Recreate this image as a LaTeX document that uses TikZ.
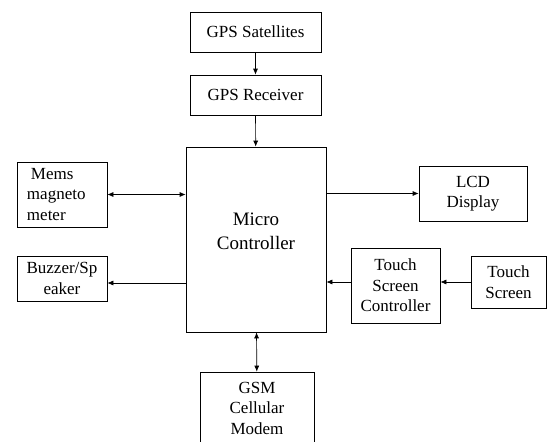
\documentclass[tikz,border=0pt]{standalone}
\usepackage{fontspec}
\setmainfont{Liberation Serif}
\newfontfamily\blokfont{Liberation Serif}
\usetikzlibrary{arrows.meta}
\tikzset{
  blok/.style={draw, line width=0.7pt, align=center, inner sep=2pt, font=\blokfont\fontsize{17}{20.5}\selectfont},
  fleche/.style={line width=0.7pt, -{Latex[length=6pt,width=5pt]}},
  dfleche/.style={line width=0.7pt, {Latex[length=6pt,width=5pt]}-{Latex[length=6pt,width=5pt]}}
}
\begin{document}
\begin{tikzpicture}[x=1pt,y=-1pt]
\clip (0,0) rectangle (547,442);
\useasboundingbox (0,0) rectangle (547,442);

\node[blok, minimum width=131pt, minimum height=40pt] (sat) at (255.5,32) {GPS Satellites};
\node[blok, minimum width=131pt, minimum height=40pt] (rec) at (255.5,95) {GPS Receiver};
\node[blok, minimum width=140pt, minimum height=185pt, font=\blokfont\fontsize{19}{24}\selectfont] (micro) at (256,239.5) {Micro\\Controller\\[-8pt]};
\node[blok, minimum width=90pt, minimum height=65pt, text width=70pt, inner xsep=10pt, align=left] (mems) at (62,194.5) {\hspace*{4pt}Mems\\magneto\\meter};
\node[blok, minimum width=90pt, minimum height=45pt] (buzz) at (62,278.5) {Buzzer/Sp\\eaker};
\node[blok, minimum width=108pt, minimum height=55pt] (lcd) at (473,193.5) {LCD\\Display};
\node[blok, minimum width=89pt, minimum height=75pt] (tsc) at (395.5,285.5) {Touch\\Screen\\Controller};
\node[blok, minimum width=75pt, minimum height=52pt] (ts) at (508.5,282) {Touch\\Screen};
\node[blok, minimum width=114pt, minimum height=72pt] (gsm) at (257,408) {GSM\\Cellular\\Modem};

\draw[fleche] (sat) -- (rec);
\draw[fleche] (rec) -- (micro);
\draw[dfleche] (mems.east) -- (mems.east -| micro.west);
\draw[fleche] ([yshift=-4.5pt]buzz.east -| micro.west) -- ([yshift=-4.5pt]buzz.east);
\draw[fleche] (micro.east |- lcd.west) -- (lcd.west);
\draw[fleche] (ts.west) -- (ts.west -| tsc.east);
\draw[fleche] (ts.west -| tsc.west) -- (ts.west -| micro.east);
\draw[dfleche] (micro) -- (gsm);

\end{tikzpicture}
\end{document}
